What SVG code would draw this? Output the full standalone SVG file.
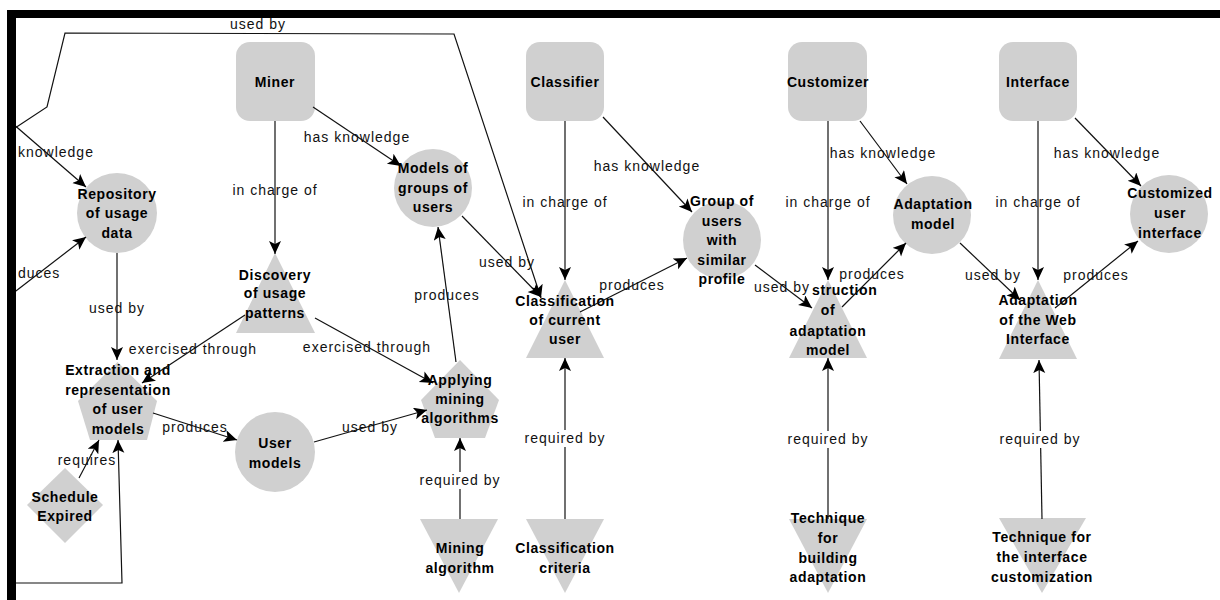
<svg xmlns="http://www.w3.org/2000/svg" width="1220" height="600" viewBox="0 0 1220 600">
<defs>
<marker id="arr" markerWidth="14" markerHeight="13" refX="13" refY="6" orient="auto" markerUnits="userSpaceOnUse">
<path d="M0,0 L13,6 L0,12 L3,6 z" fill="#000"/>
</marker>
</defs>
<style>
.n{fill:#d0d0d0;stroke:none}
.t{font-family:"Liberation Sans",Arial,sans-serif;font-size:14px;font-weight:bold;fill:#000;text-anchor:middle;letter-spacing:0.6px}
.e{fill:none;stroke:#111;stroke-width:1.2;marker-end:url(#arr)}
.l{font-family:"Liberation Sans",Arial,sans-serif;font-size:14px;fill:#111;text-anchor:middle;letter-spacing:1px}
.bg{fill:#fff}
</style>
<rect x="0" y="0" width="1220" height="600" fill="#fff"/>

<g id="miner"><rect class="n" x="236" y="42" width="79" height="79" rx="14"/><text class="t" x="275" y="87">Miner</text></g>
<g id="classifier"><rect class="n" x="526" y="42" width="78" height="79" rx="14"/><text class="t" x="565" y="87">Classifier</text></g>
<g id="customizer"><rect class="n" x="788" y="42" width="79" height="79" rx="14"/><text class="t" x="828" y="87">Customizer</text></g>
<g id="interface"><rect class="n" x="999" y="42" width="78" height="79" rx="14"/><text class="t" x="1038" y="87">Interface</text></g>

<g id="repository"><circle class="n" cx="117" cy="213" r="40"/><text class="t" x="117" y="199">Repository</text><text class="t" x="117" y="218">of usage</text><text class="t" x="117" y="238">data</text></g>
<g id="models-groups"><circle class="n" cx="433" cy="188" r="39"/><text class="t" x="433" y="173">Models of</text><text class="t" x="433" y="193">groups of</text><text class="t" x="433" y="212">users</text></g>
<g id="group-users"><circle class="n" cx="722" cy="240" r="39"/><text class="t" x="722" y="206">Group of</text><text class="t" x="722" y="226">users</text><text class="t" x="722" y="245">with</text><text class="t" x="722" y="265">similar</text><text class="t" x="722" y="284">profile</text></g>
<g id="adaptation-model"><circle class="n" cx="932" cy="215" r="39"/><text class="t" x="933" y="209">Adaptation</text><text class="t" x="933" y="229">model</text></g>
<g id="customized-ui"><circle class="n" cx="1169" cy="214" r="39"/><text class="t" x="1170" y="198">Customized</text><text class="t" x="1170" y="218">user</text><text class="t" x="1170" y="238">interface</text></g>
<g id="user-models"><circle class="n" cx="275" cy="452" r="40"/><text class="t" x="275" y="448">User</text><text class="t" x="275" y="468">models</text></g>

<g id="discovery"><polygon class="n" points="275,253 315,333 236,333"/><text class="t" x="275" y="280">Discovery</text><text class="t" x="275" y="298">of usage</text><text class="t" x="275" y="318">patterns</text></g>
<g id="classification-current"><polygon class="n" points="565,280 604,358 526,358"/><text class="t" x="565" y="306">Classification</text><text class="t" x="565" y="325">of current</text><text class="t" x="565" y="344">user</text></g>
<g id="construction"><polygon class="n" points="828,280 867,358 789,358"/><text class="t" x="812" y="295" style="text-anchor:start">struction</text><text class="t" x="828" y="315">of</text><text class="t" x="828" y="336">adaptation</text><text class="t" x="828" y="355">model</text></g>
<g id="adaptation-web"><polygon class="n" points="1038,280 1077,359 999,359"/><text class="t" x="1038" y="305">Adaptation</text><text class="t" x="1038" y="325">of the Web</text><text class="t" x="1038" y="344">Interface</text></g>

<g id="extraction"><polygon class="n" points="117.5,362 157,401 147,440 90,440 78,401"/><text class="t" x="118" y="375">Extraction and</text><text class="t" x="118" y="395">representation</text><text class="t" x="118" y="414">of user</text><text class="t" x="118" y="434">models</text></g>
<g id="applying"><polygon class="n" points="460,360 499,400 485,438 435,438 421,400"/><text class="t" x="460" y="385">Applying</text><text class="t" x="460" y="404">mining</text><text class="t" x="460" y="423">algorithms</text></g>
<g id="schedule"><polygon class="n" points="65,468 103,505 65,543 27,505"/><text class="t" x="65" y="502">Schedule</text><text class="t" x="65" y="521">Expired</text></g>

<g id="mining-algorithm"><polygon class="n" points="420,519 498,519 459,593"/><text class="t" x="460" y="553">Mining</text><text class="t" x="460" y="573">algorithm</text></g>
<g id="classification-criteria"><polygon class="n" points="526,519 604,519 565,593"/><text class="t" x="565" y="553">Classification</text><text class="t" x="565" y="573">criteria</text></g>
<g id="technique-building"><polygon class="n" points="789,519 867,519 828,593"/><text class="t" x="828" y="523">Technique</text><text class="t" x="828" y="543">for</text><text class="t" x="828" y="563">building</text><text class="t" x="828" y="582">adaptation</text></g>
<g id="technique-interface"><polygon class="n" points="999,518 1086,518 1042,593"/><text class="t" x="1042" y="542">Technique for</text><text class="t" x="1042" y="562">the interface</text><text class="t" x="1042" y="582">customization</text></g>

<g id="connectors">
<path class="e" d="M275,121 L275,254"/>
<path class="e" d="M313,107 L401,166"/>
<path class="e" d="M12,123 L86,187"/>
<path class="e" d="M12,294 L86,237"/>
<path class="e" d="M12,130 L47,107 L65,33 L454,34 L541,298"/>
<path class="e" d="M462,216 L541,297"/>
<path class="e" d="M117,253 L117,360"/>
<path class="e" d="M245,315 L142,383"/>
<path class="e" d="M315,318 L433,383"/>
<path class="e" d="M153,413 L237,440"/>
<path class="e" d="M314,442 L427,410"/>
<path class="e" d="M456,362 L438,227"/>
<path class="e" d="M460,519 L460,438"/>
<path class="e" d="M565,121 L565,280"/>
<path class="e" d="M603,117 L692,212"/>
<path class="e" d="M580,312 L687,258"/>
<path class="e" d="M565,519 L565,358"/>
<path class="e" d="M755,265 L812,308"/>
<path class="e" d="M828,121 L828,280"/>
<path class="e" d="M860,121 L907,184"/>
<path class="e" d="M842,307 L906,243"/>
<path class="e" d="M960,243 L1020,300"/>
<path class="e" d="M1038,121 L1038,280"/>
<path class="e" d="M1075,118 L1141,186"/>
<path class="e" d="M1055,308 L1138,241"/>
<path class="e" d="M1042,519 L1039,360"/>
<path class="e" d="M828,519 L828,358"/>
<path class="e" d="M79,478 L99,440"/>
<path class="e" d="M12,583 L122,583 L118,440"/>

<text class="l" x="275" y="195">in charge of</text>
<text class="l" x="565" y="207">in charge of</text>
<text class="l" x="828" y="207">in charge of</text>
<text class="l" x="1038" y="207">in charge of</text>
<text class="l" x="357" y="142">has knowledge</text>
<text class="l" x="647" y="171">has knowledge</text>
<text class="l" x="883" y="158">has knowledge</text>
<text class="l" x="1107" y="158">has knowledge</text>
<text class="l" x="18" y="157" style="text-anchor:start">knowledge</text>
<text class="l" x="18" y="278" style="text-anchor:start">duces</text>
<text class="l" x="258" y="29">used by</text>
<text class="l" x="507" y="267">used by</text>
<text class="l" x="117" y="313">used by</text>
<text class="l" x="782" y="292">used by</text>
<text class="l" x="993" y="280">used by</text>
<text class="l" x="370" y="432">used by</text>
<text class="l" x="193" y="354">exercised through</text>
<text class="l" x="367" y="352">exercised through</text>
<text class="l" x="195" y="432">produces</text>
<text class="l" x="447" y="300">produces</text>
<text class="l" x="632" y="290">produces</text>
<text class="l" x="872" y="279">produces</text>
<text class="l" x="1096" y="280">produces</text>
<rect class="bg" x="420" y="472" width="80" height="17"/>
<text class="l" x="460" y="485">required by</text>
<rect class="bg" x="525" y="430" width="80" height="17"/>
<text class="l" x="565" y="443">required by</text>
<rect class="bg" x="788" y="431" width="80" height="17"/>
<text class="l" x="828" y="444">required by</text>
<rect class="bg" x="1000" y="431" width="80" height="17"/>
<text class="l" x="1040" y="444">required by</text>
<text class="l" x="87" y="465">requires</text>
</g>

<g id="frame">
<rect x="7" y="10" width="1213" height="8" fill="#000"/>
<rect x="7" y="10" width="9" height="590" fill="#000"/>
</g>
</svg>
